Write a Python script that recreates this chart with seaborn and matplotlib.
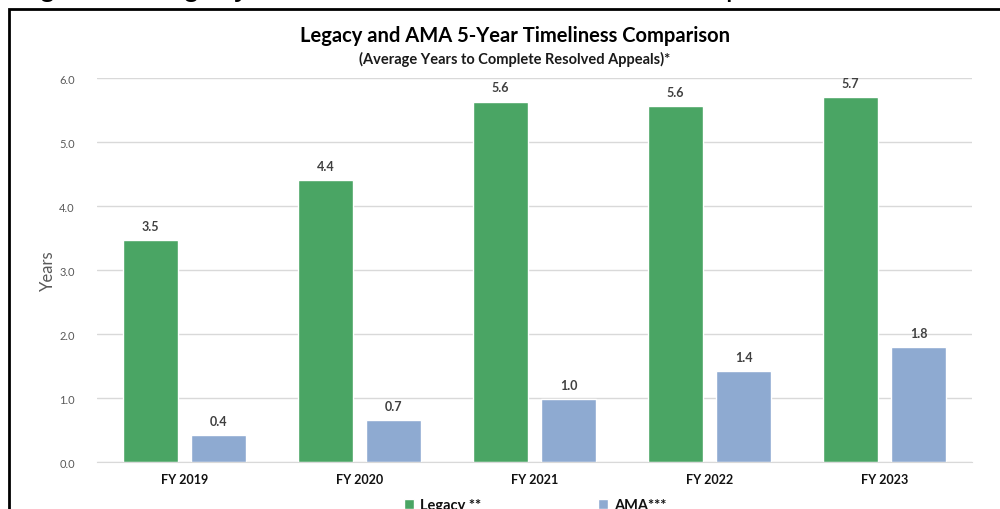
import matplotlib
matplotlib.use('Agg')
import matplotlib.pyplot as plt
import seaborn as sns
import pandas as pd
from matplotlib.patches import Rectangle

# data
years = ['FY 2019', 'FY 2020', 'FY 2021', 'FY 2022', 'FY 2023']
legacy = [3.47, 4.40, 5.63, 5.56, 5.70]
ama = [0.42, 0.66, 0.98, 1.42, 1.80]
series = ['Legacy **', 'AMA***']
colors = ['#4aa564', '#8eaad1']

df = pd.DataFrame({
    'year': years * 2,
    'value': legacy + ama,
    'series': [series[0]] * len(years) + [series[1]] * len(years),
})

sns.set_style('white')
plt.rcParams['font.family'] = ['Lato', 'DejaVu Sans']

fig = plt.figure(figsize=(10, 5.1), dpi=100)
ax = fig.add_axes([0.097, 0.092, 0.875, 0.753])

sns.barplot(data=df, x='year', y='value', hue='series', palette=colors,
            width=0.78, gap=0.19, saturation=1, ax=ax, legend=True)

for c in ax.containers:
    ax.bar_label(c, fmt='%.1f', padding=6, fontsize=9, fontweight='bold',
                 color='#404040')

ax.set_ylim(0, 6)
ax.set_xlim(-0.5, 4.5)
ax.set_yticks([0, 1, 2, 3, 4, 5, 6])
ax.set_yticklabels(['%.1f' % v for v in range(7)], fontsize=8, color='#595959')
ax.yaxis.grid(True, color='#d9d9d9', lw=1)
ax.set_axisbelow(True)
for s in ['top', 'right', 'left']:
    ax.spines[s].set_visible(False)
ax.spines['bottom'].set_color('#d9d9d9')
ax.tick_params(axis='both', length=0)
ax.tick_params(axis='x', pad=8)
for t in ax.get_xticklabels():
    t.set_fontweight('bold')
    t.set_fontsize(9)
    t.set_color('#111111')
ax.tick_params(axis='y', pad=16)
ax.set_xlabel('')
ax.set_ylabel('Years', fontsize=12, color='#595959', labelpad=2)

leg = ax.legend(loc='center', bbox_to_anchor=(0.535, 0.008),
                bbox_transform=fig.transFigure, ncol=2, frameon=False,
                fontsize=10.5, handlelength=0.7, handleheight=0.7,
                columnspacing=8, handletextpad=0.4)
for t in leg.get_texts():
    t.set_fontweight('bold')
    t.set_color('#111111')

fig.text(0.515, 0.93, 'Legacy and AMA 5-Year Timeliness Comparison',
         ha='center', va='center', fontsize=14.5, fontweight='bold', color='black')
fig.text(0.515, 0.884, '(Average Years to Complete Resolved Appeals)*',
         ha='center', va='center', fontsize=10.5, fontweight='bold', color='#1a1a1a')

# caption above the box, cut off by the picture edge
fig.text(0.012, 1.009, 'Figure 5: Legacy and AMA 5-Year Timeliness Comparison',
         ha='left', va='baseline', fontsize=23, color='black',
         family=['Liberation Sans', 'DejaVu Sans'])

# frame around the chart
fig.patches.append(Rectangle((0.009, -0.05), 1.2, 1.03, transform=fig.transFigure,
                             fill=False, edgecolor='black', lw=2))

fig.savefig('out.png', dpi=100)
